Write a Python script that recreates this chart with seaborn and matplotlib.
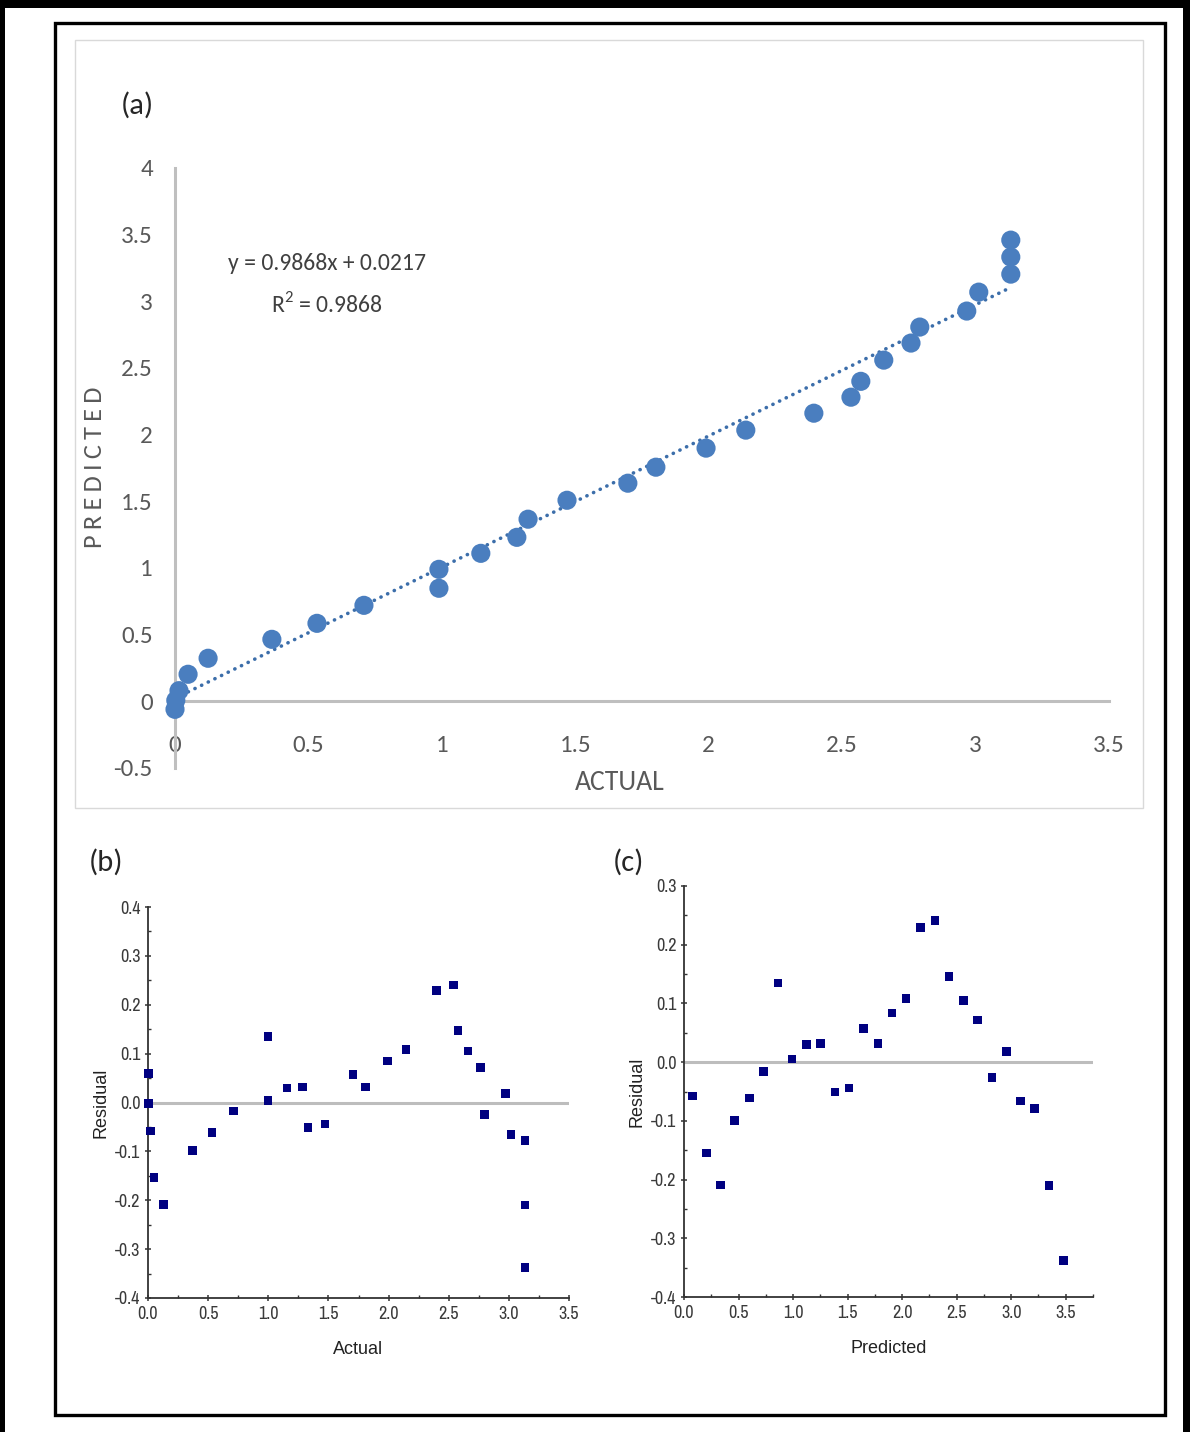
import matplotlib
matplotlib.use("Agg")
import matplotlib.pyplot as plt
from matplotlib import font_manager
from matplotlib.patches import Rectangle
from matplotlib.ticker import MultipleLocator, FormatStrFormatter
import seaborn as sns
import pandas as pd

# ---------------- data ----------------
actual_a = [0.0, 0.003, 0.015, 0.049, 0.124, 0.363, 0.532, 0.708, 0.989, 0.989,
            1.146, 1.281, 1.323, 1.469, 1.697, 1.802, 1.990, 2.139, 2.394, 2.533,
            2.570, 2.656, 2.758, 2.791, 2.967, 3.012, 3.132, 3.132, 3.132]
predicted_a = [-0.06, 0.007, 0.08, 0.203, 0.323, 0.465, 0.585, 0.720, 0.848, 0.990,
               1.110, 1.230, 1.366, 1.508, 1.636, 1.756, 1.899, 2.034, 2.161, 2.281,
               2.400, 2.559, 2.687, 2.807, 2.927, 3.069, 3.204, 3.332, 3.459]

actual_b = [0.005, 0.005, 0.020, 0.050, 0.128, 0.369, 0.532, 0.713, 0.996, 0.996,
            1.154, 1.284, 1.331, 1.470, 1.703, 1.808, 1.991, 2.146, 2.399, 2.540,
            2.576, 2.662, 2.765, 2.798, 2.970, 3.017, 3.136, 3.136, 3.136]
residual_b = [0.059, -0.002, -0.058, -0.154, -0.209, -0.098, -0.061, -0.017, 0.004, 0.135,
              0.030, 0.032, -0.051, -0.044, 0.057, 0.032, 0.085, 0.109, 0.229, 0.240,
              0.147, 0.105, 0.072, -0.025, 0.018, -0.066, -0.078, -0.210, -0.338]

predicted_c = [0.076, 0.205, 0.336, 0.465, 0.600, 0.728, 0.860, 0.991, 1.123, 1.251,
               1.383, 1.514, 1.646, 1.777, 1.906, 2.037, 2.169, 2.300, 2.428, 2.563,
               2.692, 2.823, 2.955, 3.087, 3.215, 3.347, 3.478]
residual_c = [-0.058, -0.155, -0.209, -0.099, -0.061, -0.016, 0.135, 0.005, 0.030, 0.032,
              -0.051, -0.044, 0.057, 0.032, 0.084, 0.108, 0.229, 0.241, 0.146, 0.105,
              0.072, -0.026, 0.018, -0.066, -0.079, -0.210, -0.338]

eq_text = "y = 0.9868x + 0.0217"
r2_text = r"R$^{\mathregular{2}}$ = 0.9868"

a_yticks = [-0.5, 0, 0.5, 1, 1.5, 2, 2.5, 3, 3.5, 4]
a_xticks = [0, 0.5, 1, 1.5, 2, 2.5, 3, 3.5]

df_a = pd.DataFrame({"ACTUAL": actual_a, "PREDICTED": predicted_a})
df_b = pd.DataFrame({"Actual": actual_b, "Residual": residual_b})
df_c = pd.DataFrame({"Predicted": predicted_c, "Residual": residual_c})

# ---------------- fonts ----------------
available = {f.name for f in font_manager.fontManager.ttflist}

def pick(cands):
    for c in cands:
        if c in available:
            return c
    return "DejaVu Sans"

calibri = pick(["Carlito", "Calibri", "Lato"])
narrow = pick(["Liberation Sans Narrow", "Arial Narrow", "Archivo Narrow",
               "Roboto Condensed", "PT Sans Narrow", "Liberation Sans"])
arial = pick(["Liberation Sans", "Arimo", "DejaVu Sans"])

sns.set_theme(style="white")
plt.rcParams["font.family"] = [calibri, "DejaVu Sans"]
plt.rcParams["mathtext.fontset"] = "custom"
plt.rcParams["mathtext.rm"] = calibri

W, H = 1190, 1432
fig = plt.figure(figsize=(W / 100, H / 100), dpi=100)
fig.patch.set_facecolor("white")

def fx(px):
    return px / W

def fy(py):
    return 1 - py / H

def rect(x0, y0, x1, y1, **kw):
    fig.patches.append(Rectangle((fx(x0), fy(y1)), fx(x1) - fx(x0), fy(y0) - fy(y1),
                                 transform=fig.transFigure, figure=fig, **kw))

# outer decorations
rect(0, 0, W, 8, facecolor="black", edgecolor="none")
rect(0, 0, 5, H, facecolor="black", edgecolor="none")
rect(1183, 0, W, H, facecolor="black", edgecolor="none")
rect(55, 23, 1165, 1415, facecolor="none", edgecolor="black", linewidth=2.4)
rect(75, 40, 1143, 808, facecolor="none", edgecolor="#D9D9D9", linewidth=1.0)

# ---------------- panel (a) ----------------
ax_a = fig.add_axes([fx(175), fy(768), fx(1109) - fx(175), fy(168) - fy(768)])
ax_a.set_facecolor("none")
pt_color = "#4A7EBF"
sns.regplot(data=df_a, x="ACTUAL", y="PREDICTED", ax=ax_a, scatter=False, ci=None,
            truncate=True,
            line_kws=dict(color="#3C6EAA", linewidth=2.6, linestyle=(0, (0.05, 2.0)),
                          dash_capstyle="round", zorder=3))
sns.scatterplot(data=df_a, x="ACTUAL", y="PREDICTED", ax=ax_a, s=190, color=pt_color,
                edgecolor="none", zorder=4, clip_on=False)
ax_a.set_xlim(0, 3.5)
ax_a.set_ylim(-0.5, 4)
ax_a.set_xticks(a_xticks)
ax_a.set_yticks(a_yticks)
ax_a.set_xticklabels([f"{v:g}" for v in a_xticks])
ax_a.set_yticklabels([f"{v:g}" for v in a_yticks])
for s in ["top", "right"]:
    ax_a.spines[s].set_visible(False)
ax_a.spines["bottom"].set_position(("data", 0))
ax_a.spines["left"].set_position(("data", 0))
for s in ["bottom", "left"]:
    ax_a.spines[s].set_color("#BFBFBF")
    ax_a.spines[s].set_linewidth(2.2)
    ax_a.spines[s].set_zorder(1)
ax_a.tick_params(axis="x", length=0, pad=24, labelsize=18, labelcolor="#595959")
ax_a.tick_params(axis="y", length=0, pad=16, labelsize=18, labelcolor="#595959")
for lab in ax_a.get_xticklabels() + ax_a.get_yticklabels():
    lab.set_fontweight("light")
ax_a.set_xlabel("")
ax_a.set_ylabel("")
fig.text(fx(620), fy(783), "ACTUAL", ha="center", va="center", fontsize=20,
         color="#595959", fontweight="light")
fig.text(fx(94), fy(467), "P\u2009R\u2009E\u2009D\u2009I\u2009C\u2009T\u2009E\u2009D",
         ha="center", va="center", rotation=90,
         fontsize=19, color="#595959", family=[calibri, "DejaVu Sans"])
fig.text(fx(137), fy(105), "(a)", ha="center", va="center", fontsize=22,
         color="#262626", fontweight="light")
ax_a.text(0.57, 3.28, eq_text, ha="center", va="center", fontsize=17,
          color="#404040", fontweight="light")
ax_a.text(0.57, 2.98, r2_text, ha="center", va="center", fontsize=17,
          color="#404040", fontweight="light")

# ---------------- panels (b) and (c) ----------------
def residual_axes(ax, df, xcol, xmax, ylo, yhi):
    ax.axhline(0, color="#BDBDBD", linewidth=2.2, zorder=1)
    sns.scatterplot(data=df, x=xcol, y="Residual", ax=ax, marker="s", s=38,
                    color="#000080", edgecolor="none", zorder=3, clip_on=False)
    ax.set_xlim(0, xmax)
    ax.set_ylim(ylo, yhi)
    ax.xaxis.set_major_locator(MultipleLocator(0.5))
    ax.xaxis.set_minor_locator(MultipleLocator(0.25))
    ax.yaxis.set_major_locator(MultipleLocator(0.1))
    ax.yaxis.set_minor_locator(MultipleLocator(0.05))
    ax.xaxis.set_major_formatter(FormatStrFormatter("%.1f"))
    ax.yaxis.set_major_formatter(FormatStrFormatter("%.1f"))
    for s in ["top", "right"]:
        ax.spines[s].set_visible(False)
    for s in ["bottom", "left"]:
        ax.spines[s].set_color("#333333")
        ax.spines[s].set_linewidth(1.3)
    ax.tick_params(which="major", direction="inout", length=5, width=1.1, color="#333333",
                   labelsize=13, labelcolor="#3a3a3a", pad=3,
                   bottom=True, left=True)
    ax.tick_params(which="minor", direction="in", length=2.5, width=1.0, color="#333333",
                   bottom=True, left=True)
    for lab in ax.get_xticklabels() + ax.get_yticklabels():
        lab.set_family([narrow, "DejaVu Sans"])
    ax.set_xlabel(xcol, fontsize=13, color="#222222",
                  family=[arial, "DejaVu Sans"], labelpad=14)
    ax.set_ylabel("Residual", fontsize=13, color="#222222",
                  family=[arial, "DejaVu Sans"], labelpad=4)

ax_b = fig.add_axes([fx(148), fy(1298), fx(569) - fx(148), fy(907) - fy(1298)])
residual_axes(ax_b, df_b, "Actual", 3.5, -0.4, 0.4)
ax_c = fig.add_axes([fx(684), fy(1297), fx(1093) - fx(684), fy(886) - fy(1297)])
residual_axes(ax_c, df_c, "Predicted", 3.75, -0.4, 0.3)

fig.text(fx(106), fy(862), "(b)", ha="center", va="center", fontsize=22,
         color="#262626", fontweight="light")
fig.text(fx(628), fy(862), "(c)", ha="center", va="center", fontsize=22,
         color="#262626", fontweight="light")

fig.savefig("out.png", dpi=100, facecolor="white")
